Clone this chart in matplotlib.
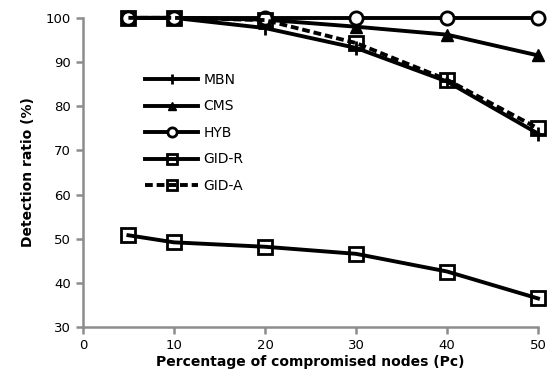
import matplotlib
matplotlib.use("Agg")
from matplotlib import pyplot as plt

plt.rcParams['font.family'] = ['DejaVu Sans']

# Detection ratio per scheme vs. percentage of compromised nodes
pc = [5, 10, 20, 30, 40, 50]
mbn = [100, 100, 97.7, 93.2, 85.6, 73.8]
cms = [100, 100, 99.6, 98.0, 96.2, 91.5]
hyb = [100, 100, 100, 100, 100, 100]
gid_r = [50.8, 49.2, 48.2, 46.6, 42.6, 36.5]
gid_a = [100, 100, 99.5, 94.3, 86.0, 75.0]

fig = plt.figure(figsize=(5.49, 3.8), dpi=100)
ax = fig.add_axes([0.151, 0.139, 0.829, 0.814])

lw = 2.8
common = dict(color='black', lw=lw, clip_on=False)
ax.plot(pc, mbn, marker='+', ms=10, mew=2, label='MBN', **common)
ax.plot(pc, cms, marker='^', ms=8, mfc='black', label='CMS', **common)
ax.plot(pc, hyb, marker='o', ms=9.5, mfc='white', mew=2, label='HYB', **common)
ax.plot(pc, gid_r, marker='s', ms=9.5, mfc='none', mew=2, label='GID-R', **common)
ax.plot(pc, gid_a, ls=(0, (2, 1)), marker='s', ms=9.5, mfc='none', mew=2,
        label='GID-A', **common)

ax.set_xlim(0, 50)
ax.set_ylim(30, 100)
ax.set_xticks(range(0, 51, 10))
ax.set_yticks(range(30, 101, 10))

for s in ['top', 'right']:
    ax.spines[s].set_visible(False)
for s in ['left', 'bottom']:
    ax.spines[s].set_color('#8c8c8c')
    ax.spines[s].set_linewidth(1.8)
ax.tick_params(direction='out', length=5, width=1.8, color='#8c8c8c', labelsize=9.5)

ax.set_xlabel('Percentage of compromised nodes (Pc)', fontsize=10, fontweight='bold', labelpad=2)
ax.set_ylabel('Detection ratio (%)', fontsize=10, fontweight='bold', labelpad=8)

ax.legend(loc='upper left', bbox_to_anchor=(0.125, 0.84), frameon=False, fontsize=10,
          handlelength=3.8, labelspacing=0.9, handletextpad=0.4, borderaxespad=0,
          markerscale=0.7)

fig.savefig('out.png', dpi=100)
